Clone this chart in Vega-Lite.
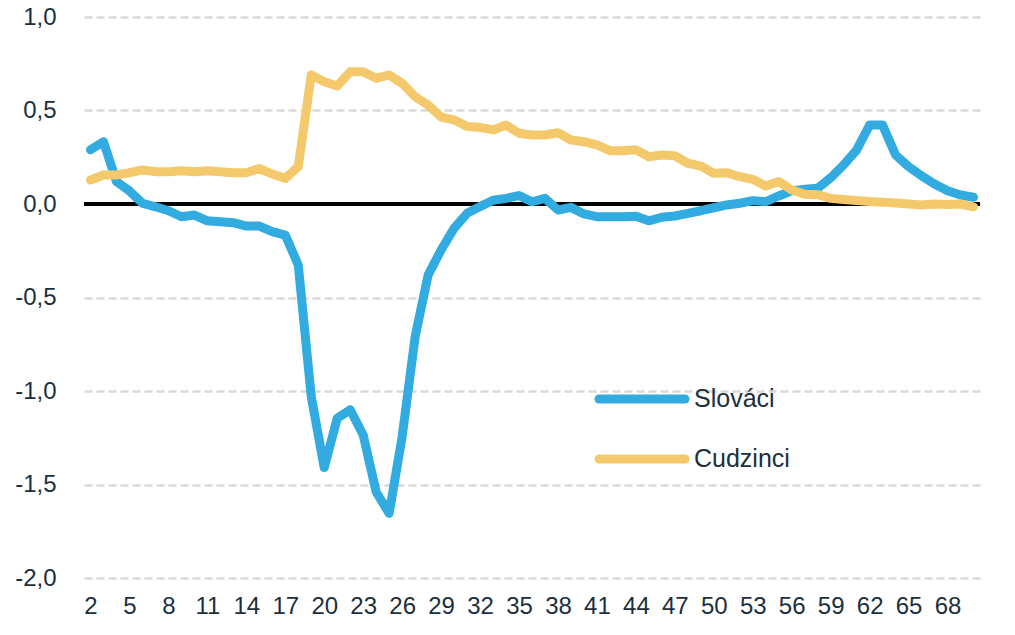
{
  "$schema": "https://vega.github.io/schema/vega-lite/v6.json",
  "width": 896,
  "height": 561,
  "autosize": "none",
  "padding": {"left": 84, "top": 17, "right": 35, "bottom": 57},
  "background": "white",
  "data": {
    "values": [
      {"w": 2, "Slováci": 0.29, "Cudzinci": 0.128},
      {"w": 3, "Slováci": 0.333, "Cudzinci": 0.155},
      {"w": 4, "Slováci": 0.12, "Cudzinci": 0.155},
      {"w": 5, "Slováci": 0.07, "Cudzinci": 0.167},
      {"w": 6, "Slováci": 0.004, "Cudzinci": 0.182},
      {"w": 7, "Slováci": -0.015, "Cudzinci": 0.173},
      {"w": 8, "Slováci": -0.036, "Cudzinci": 0.173},
      {"w": 9, "Slováci": -0.068, "Cudzinci": 0.178},
      {"w": 10, "Slováci": -0.059, "Cudzinci": 0.173},
      {"w": 11, "Slováci": -0.09, "Cudzinci": 0.178},
      {"w": 12, "Slováci": -0.095, "Cudzinci": 0.173},
      {"w": 13, "Slováci": -0.1, "Cudzinci": 0.167},
      {"w": 14, "Slováci": -0.118, "Cudzinci": 0.167},
      {"w": 15, "Slováci": -0.118, "Cudzinci": 0.19},
      {"w": 16, "Slováci": -0.148, "Cudzinci": 0.16},
      {"w": 17, "Slováci": -0.166, "Cudzinci": 0.137},
      {"w": 18, "Slováci": -0.326, "Cudzinci": 0.2},
      {"w": 19, "Slováci": -1.03, "Cudzinci": 0.69},
      {"w": 20, "Slováci": -1.41, "Cudzinci": 0.654},
      {"w": 21, "Slováci": -1.146, "Cudzinci": 0.631},
      {"w": 22, "Slováci": -1.1, "Cudzinci": 0.707},
      {"w": 23, "Slováci": -1.235, "Cudzinci": 0.707},
      {"w": 24, "Slováci": -1.54, "Cudzinci": 0.672},
      {"w": 25, "Slováci": -1.654, "Cudzinci": 0.69},
      {"w": 26, "Slováci": -1.244, "Cudzinci": 0.645},
      {"w": 27, "Slováci": -0.71, "Cudzinci": 0.574},
      {"w": 28, "Slováci": -0.38, "Cudzinci": 0.529},
      {"w": 29, "Slováci": -0.246, "Cudzinci": 0.465},
      {"w": 30, "Slováci": -0.13, "Cudzinci": 0.45},
      {"w": 31, "Slováci": -0.05, "Cudzinci": 0.415},
      {"w": 32, "Slováci": -0.014, "Cudzinci": 0.41},
      {"w": 33, "Slováci": 0.02, "Cudzinci": 0.396},
      {"w": 34, "Slováci": 0.03, "Cudzinci": 0.422},
      {"w": 35, "Slováci": 0.045, "Cudzinci": 0.378},
      {"w": 36, "Slováci": 0.012, "Cudzinci": 0.369},
      {"w": 37, "Slováci": 0.03, "Cudzinci": 0.369},
      {"w": 38, "Slováci": -0.032, "Cudzinci": 0.381},
      {"w": 39, "Slováci": -0.018, "Cudzinci": 0.342},
      {"w": 40, "Slováci": -0.053, "Cudzinci": 0.333},
      {"w": 41, "Slováci": -0.068, "Cudzinci": 0.316},
      {"w": 42, "Slováci": -0.068, "Cudzinci": 0.285},
      {"w": 43, "Slováci": -0.068, "Cudzinci": 0.285},
      {"w": 44, "Slováci": -0.065, "Cudzinci": 0.29},
      {"w": 45, "Slováci": -0.09, "Cudzinci": 0.253},
      {"w": 46, "Slováci": -0.071, "Cudzinci": 0.262},
      {"w": 47, "Slováci": -0.064, "Cudzinci": 0.258},
      {"w": 48, "Slováci": -0.05, "Cudzinci": 0.218},
      {"w": 49, "Slováci": -0.036, "Cudzinci": 0.203},
      {"w": 50, "Slováci": -0.02, "Cudzinci": 0.164},
      {"w": 51, "Slováci": -0.005, "Cudzinci": 0.167},
      {"w": 52, "Slováci": 0.004, "Cudzinci": 0.146},
      {"w": 53, "Slováci": 0.018, "Cudzinci": 0.132},
      {"w": 54, "Slováci": 0.012, "Cudzinci": 0.096},
      {"w": 55, "Slováci": 0.043, "Cudzinci": 0.12},
      {"w": 56, "Slováci": 0.07, "Cudzinci": 0.075},
      {"w": 57, "Slováci": 0.079, "Cudzinci": 0.052},
      {"w": 58, "Slováci": 0.084, "Cudzinci": 0.05},
      {"w": 59, "Slováci": 0.14, "Cudzinci": 0.03},
      {"w": 60, "Slováci": 0.209, "Cudzinci": 0.024},
      {"w": 61, "Slováci": 0.289, "Cudzinci": 0.019},
      {"w": 62, "Slováci": 0.422, "Cudzinci": 0.013},
      {"w": 63, "Slováci": 0.422, "Cudzinci": 0.01},
      {"w": 64, "Slováci": 0.262, "Cudzinci": 0.005},
      {"w": 65, "Slováci": 0.2, "Cudzinci": 0.0},
      {"w": 66, "Slováci": 0.15, "Cudzinci": -0.005},
      {"w": 67, "Slováci": 0.107, "Cudzinci": 0.0},
      {"w": 68, "Slováci": 0.071, "Cudzinci": -0.003},
      {"w": 69, "Slováci": 0.048, "Cudzinci": 0.0},
      {"w": 70, "Slováci": 0.036, "Cudzinci": -0.015}
    ]
  },
  "layer": [
    {
      "mark": {"type": "rule", "color": "#000000", "strokeWidth": 3},
      "encoding": {"y": {"datum": 0, "type": "quantitative"}}
    },
    {
      "transform": [
        {"fold": ["Slováci", "Cudzinci"], "as": ["skupina", "hodnota"]}
      ],
      "mark": {
        "type": "line",
        "strokeWidth": 9,
        "strokeCap": "round",
        "strokeJoin": "round"
      },
      "encoding": {
        "x": {
          "field": "w",
          "type": "quantitative",
          "title": null,
          "scale": {"domain": [1.5, 70.5], "nice": false, "zero": false},
          "axis": {
            "values": [2, 5, 8, 11, 14, 17, 20, 23, 26, 29, 32, 35, 38, 41, 44, 47, 50, 53, 56, 59, 62, 65, 68],
            "format": "d",
            "grid": false,
            "ticks": false,
            "domain": false,
            "labelPadding": 16,
            "labelFlush": false
          }
        },
        "y": {
          "field": "hodnota",
          "type": "quantitative",
          "title": null,
          "scale": {"domain": [-2, 1], "nice": false},
          "axis": {
            "values": [-2, -1.5, -1, -0.5, 0, 0.5, 1],
            "format": ".1f",
            "grid": true,
            "gridColor": "#d9d9d9",
            "gridWidth": 2.5,
            "gridDash": [8, 4],
            "ticks": false,
            "domain": false,
            "labelPadding": 28
          }
        },
        "color": {
          "field": "skupina",
          "type": "nominal",
          "title": null,
          "scale": {"domain": ["Slováci", "Cudzinci"], "range": ["#31abe0", "#f3c96b"]},
          "legend": {
            "orient": "none",
            "legendX": 510,
            "legendY": 367,
            "padding": 0,
            "symbolType": "stroke",
            "symbolSize": 7400,
            "symbolStrokeWidth": 9,
            "labelFontSize": 25,
            "labelOffset": 4,
            "labelColor": "#1b2f3d",
            "clipHeight": 30,
            "rowPadding": 30,
            "encode": {
              "symbols": {"update": {"strokeCap": {"value": "round"}}}
            }
          }
        }
      }
    }
  ],
  "config": {
    "locale": {
      "number": {
        "decimal": ",",
        "thousands": " ",
        "grouping": [3],
        "currency": ["", " €"],
        "minus": "-"
      }
    },
    "view": {"stroke": null},
    "font": "Liberation Sans",
    "axis": {
      "labelFont": "Liberation Sans",
      "labelFontSize": 24,
      "labelColor": "#1b2f3d"
    },
    "legend": {"labelFont": "Liberation Sans"}
  }
}
